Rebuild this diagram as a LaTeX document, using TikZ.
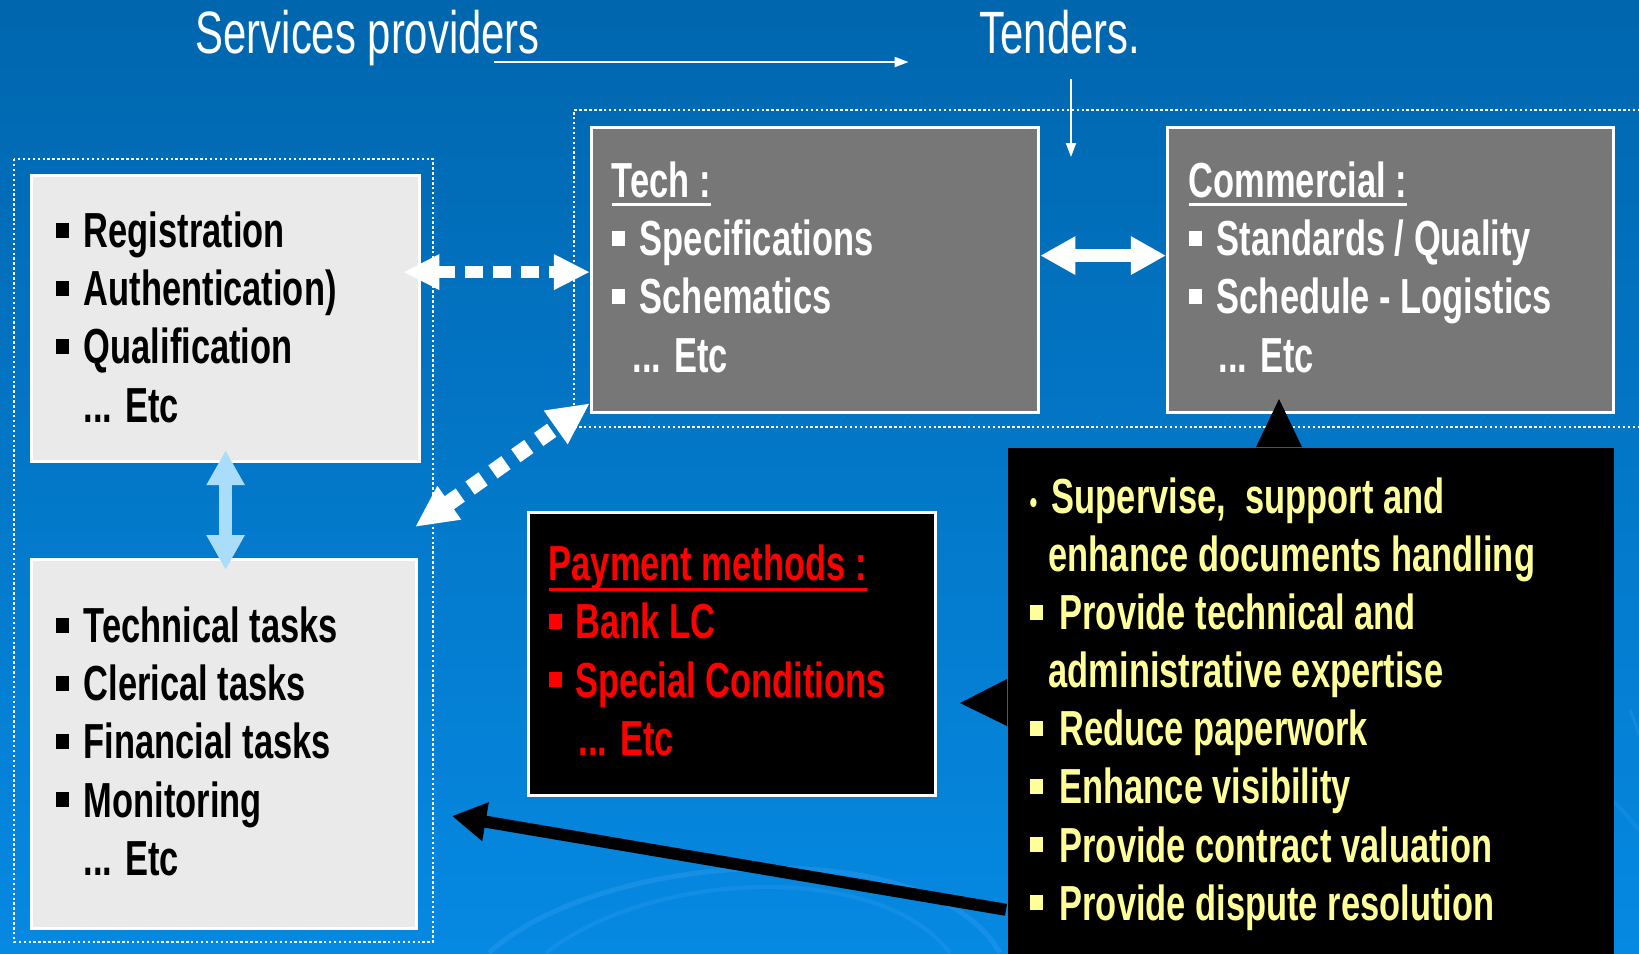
\documentclass[tikz,border=0pt]{standalone}
\usepackage{fontspec}
\setmainfont{Liberation Sans}[FakeStretch=0.7]
\usetikzlibrary{arrows.meta, positioning, calc}

\definecolor{bgtop}{HTML}{0066AE}
\definecolor{bgmid}{HTML}{006CB9}
\definecolor{bgbot}{HTML}{0689E2}
\definecolor{swirl}{HTML}{2A9BEE}
\definecolor{paleblue}{HTML}{AADDFA}
\definecolor{lightbox}{HTML}{EAEAEA}
\definecolor{greybox}{HTML}{777777}
\definecolor{softyellow}{HTML}{FFFF99}

\newcommand{\bul}[1][8pt]{\makebox[#1][l]{\rule[2.8pt]{3.7pt}{4.4pt}}}
\newcommand{\etcline}[1][8pt]{\hspace*{#1}... Etc}
\newcommand{\hdr}[2][2.4pt]{\setbox0\hbox{#2}\rlap{\rule[-#1]{\wd0}{0.85pt}}\box0}

\tikzset{
  box/.style={draw=white, line width=0.03cm, inner sep=0pt, anchor=north west},
  boxtext/.style={anchor=base west, align=left, inner sep=0pt,
    font=\bfseries\fontsize{14}{16.5}\selectfont},
  headtext/.style={anchor=base west, inner sep=0pt, text=white,
    font=\fontsize{17}{20}\selectfont},
  frame/.style={draw=white, line width=0.7pt, dash pattern=on 0.7pt off 0.7pt},
  thinarrow/.style={draw=white, line width=0.02cm, -{Triangle[length=0.14cm,width=0.1cm]}},
  dotarrow/.style={draw=white, line width=0.12cm, dash pattern=on 0.18cm off 0.1cm,
    {Triangle[length=0.36cm,width=0.33cm]}-{Triangle[length=0.36cm,width=0.33cm]}},
  diagarrow/.style={draw=white, line width=0.16cm, dash pattern=on 0.16cm off 0.12cm,
    {Triangle[length=0.42cm,width=0.38cm]}-{Triangle[length=0.42cm,width=0.38cm]}},
  fatarrow/.style={line width=0.13cm,
    {Triangle[length=0.35cm,width=0.36cm]}-{Triangle[length=0.35cm,width=0.36cm]}},
  blackarrow/.style={draw=black, line width=0.12cm, -{Triangle[length=0.34cm,width=0.37cm]}}
}

\begin{document}
\begin{tikzpicture}[x=0.01cm, y=-0.01cm]
  \useasboundingbox (0,0) rectangle (1639,953);
  \shade[top color=bgtop, middle color=bgmid, bottom color=bgbot] (0,0) rectangle (1639,953); % Background

  % faint swirls
  \draw[swirl, line width=0.05cm, opacity=0.45] (489,953) .. controls (600,850) and (930,830) .. (1000,953);
  \draw[swirl, line width=0.04cm, opacity=0.35] (546,953) .. controls (650,870) and (880,860) .. (950,953);
  \draw[swirl, line width=0.04cm, opacity=0.3] (1600,790) .. controls (1620,805) and (1630,820) .. (1639,830);
  \draw[swirl, line width=0.03cm, opacity=0.35] (1630,710) .. controls (1635,720) and (1637,730) .. (1639,735);

  % titles
  \node[headtext] (serv) at (195,53) {Services providers};
  \node[headtext] (tend) at (979,53) {Tenders.};
  \coordinate (tendin) at (1071,157);
  \draw[thinarrow] ([xshift=-0.47cm, yshift=-0.09cm]serv.base east) -- ++(415,0);
  \draw[thinarrow] ($(tendin |- tend.south)+(0,25)$) -- (tendin);

  % dotted frames
  \draw[frame] (14,159) rectangle (433,942); % Providers side
  \draw[frame] (1660,110) -- (574,110) -- (574,427) -- (1660,427); % Tender side

  % boxes
  \node[box, fill=lightbox, minimum width=3.88cm, minimum height=2.86cm] (reg) at (30,174) {};
  \node[box, fill=lightbox, minimum width=3.85cm, minimum height=3.69cm] (tasks) at (30,558) {};
  \node[box, fill=greybox, minimum width=4.47cm, minimum height=2.85cm] (tech) at (590,126) {};
  \node[box, fill=greybox, minimum width=4.46cm, minimum height=2.85cm] (comm) at (1166,126) {};
  \node[box, fill=black, minimum width=4.07cm, minimum height=2.83cm] (pay) at (527,511) {};

  % texts (anchored on the baseline of their last line)
  \node[boxtext] (regtxt) at (55,422) {\bul Registration\\ \bul Authentication)\\ \bul Qualification\\ \etcline};
  \node[boxtext] (taskstxt) at (55,875) {\bul Technical tasks\\ \bul Clerical tasks\\ \bul Financial tasks\\ \bul Monitoring\\ \etcline};
  \node[boxtext, text=white] (techtxt) at (611,372) {\hdr{Tech :}\\ \bul Specifications\\ \bul Schematics\\ \etcline[6pt]};
  \node[boxtext, text=white] (commtxt) at (1188,372) {\hdr{Commercial :}\\ \bul Standards / Quality\\ \bul Schedule - Logistics\\ \etcline[8.5pt]};
  \node[boxtext, text=red] (paytxt) at (548,755) {\hdr[2.8pt]{Payment methods :}\\ \bul[7.6pt]Bank LC\\ \bul[7.6pt]Special Conditions\\ \etcline[8.5pt]};

  % connectors
  \coordinate (lowtip) at (415,527);
  \coordinate (tasktip) at (452,816);
  \draw[dotarrow] ($(reg.east |- tech.west)+(-18,2)$) -- ($(tech.west)+(0,2)$);
  \draw[fatarrow, draw=white, fill=white] ([yshift=0.145cm]tech.east) -- ([yshift=0.145cm]comm.west);
  \draw[fatarrow, draw=paleblue, fill=paleblue] ([yshift=0.13cm]reg.south) -- ([yshift=-0.12cm]reg.south |- tasks.north);
  \draw[diagarrow] (lowtip) -- ([yshift=0.11cm]tech.south west);

  % callout
  \node[box, draw=none, fill=black, minimum width=6.06cm, minimum height=5.2cm] (supp) at (1006,446) {};
  \draw[blackarrow] ([yshift=-2.02cm]supp.west) -- (tasktip);
  \fill (1256,447) -- (1279,399) -- (1302,447) -- cycle; % Pointer up
  \fill (1007,679) -- (960,703) -- (1007,726) -- cycle; % Pointer left
  \node[boxtext, text=softyellow] (supptxt) at (1029,920) {%
    \makebox[6.3pt][l]{\fontsize{9}{9}\selectfont\textbullet}Supervise,~ support and\\
    \hspace*{5.4pt}enhance documents handling\\
    \bul[8.5pt]Provide technical and\\
    \hspace*{5.4pt}administrative expertise\\
    \bul[8.5pt]Reduce paperwork\\
    \bul[8.5pt]Enhance visibility\\
    \bul[8.5pt]Provide contract valuation\\
    \bul[8.5pt]Provide dispute resolution};
\end{tikzpicture}
\end{document}
